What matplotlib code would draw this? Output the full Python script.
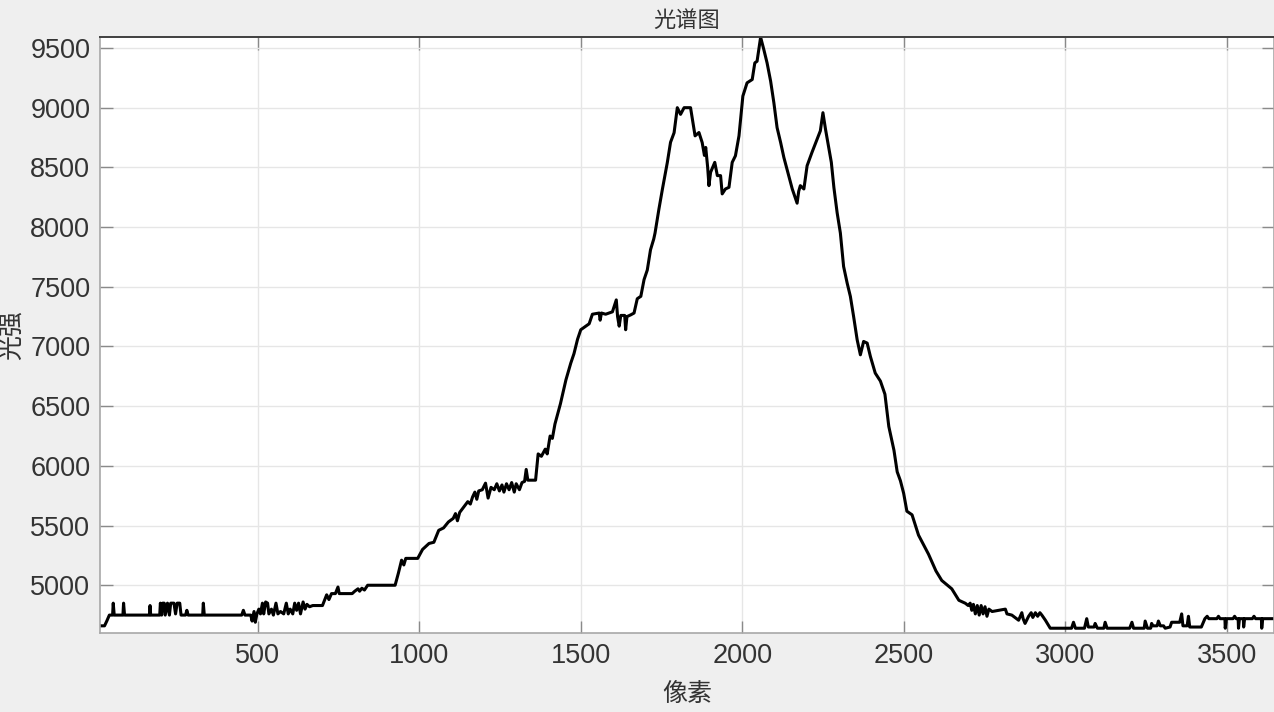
import matplotlib
matplotlib.use("Agg")
import matplotlib.pyplot as plt
import numpy as np

plt.rcParams['font.family'] = ['Liberation Sans', 'Noto Sans CJK SC', 'DejaVu Sans']

# spectrum, (pixel, intensity) per segment
baseline_left = [(1, 4660), (25, 4660), (32, 4700), (40, 4750), (50, 4750), (52, 4850), (55, 4750),
                 (82, 4750), (84, 4850), (87, 4750), (164, 4750), (166, 4830), (168, 4750),
                 (196, 4750), (198, 4850), (202, 4750), (205, 4850), (210, 4850), (213, 4750),
                 (220, 4850), (226, 4750), (230, 4850), (240, 4850), (245, 4760), (250, 4850),
                 (258, 4850), (262, 4750), (276, 4750), (280, 4790), (284, 4750), (329, 4750),
                 (331, 4850), (334, 4750), (450, 4750), (455, 4790), (460, 4750), (478, 4750),
                 (482, 4700), (488, 4780), (492, 4690), (497, 4760), (503, 4800), (508, 4760),
                 (514, 4850), (518, 4760), (524, 4860), (530, 4850), (534, 4760), (542, 4800),
                 (548, 4750), (556, 4850), (562, 4760), (570, 4780), (580, 4760), (588, 4850),
                 (594, 4760), (600, 4800), (608, 4760), (614, 4850), (620, 4790), (626, 4850),
                 (632, 4760), (640, 4860), (646, 4800), (652, 4840), (660, 4820), (670, 4830),
                 (700, 4830), (713, 4920), (720, 4880), (728, 4930), (740, 4930), (748, 4985),
                 (752, 4930), (780, 4930), (792, 4930), (800, 4950), (810, 4970), (815, 4950),
                 (822, 4975), (830, 4960), (840, 5000), (925, 5000)]

shoulder = [(935, 5100), (945, 5210), (952, 5170), (958, 5225), (995, 5225), (1010, 5300),
            (1030, 5350), (1045, 5360), (1060, 5460), (1075, 5480), (1090, 5530), (1105, 5560),
            (1112, 5600), (1118, 5540), (1125, 5610), (1136, 5650), (1150, 5700), (1158, 5680),
            (1165, 5740), (1172, 5780), (1178, 5720), (1184, 5790), (1195, 5800), (1205, 5855),
            (1213, 5730), (1222, 5820), (1232, 5800), (1240, 5850), (1248, 5790), (1256, 5840),
            (1262, 5780), (1270, 5850), (1278, 5800), (1286, 5860), (1294, 5780), (1300, 5850),
            (1310, 5800), (1318, 5860), (1326, 5870), (1331, 5970), (1336, 5880), (1360, 5880),
            (1368, 6100), (1378, 6080), (1390, 6140), (1396, 6100), (1405, 6250), (1412, 6230),
            (1420, 6350), (1437, 6520), (1454, 6720), (1469, 6860), (1479, 6940), (1490, 7060),
            (1500, 7140), (1526, 7190), (1536, 7270), (1557, 7280), (1560, 7220), (1564, 7280),
            (1577, 7270), (1598, 7290), (1610, 7390), (1614, 7250), (1619, 7170), (1624, 7260),
            (1636, 7260), (1639, 7140), (1643, 7250), (1655, 7265), (1665, 7280), (1675, 7400),
            (1686, 7420), (1696, 7560), (1706, 7640), (1716, 7810), (1726, 7900)]

peaks = [(1730, 7950), (1742, 8150), (1753, 8320), (1768, 8540), (1778, 8710), (1789, 8790),
         (1799, 9000), (1809, 8944), (1820, 9000), (1840, 9000), (1854, 8764), (1866, 8792),
         (1876, 8708), (1883, 8600), (1887, 8667), (1893, 8500), (1897, 8347), (1902, 8458),
         (1915, 8542), (1923, 8431), (1933, 8431), (1938, 8278), (1948, 8319), (1959, 8333),
         (1969, 8542), (1979, 8597), (1990, 8764), (2002, 9097), (2015, 9208), (2031, 9236),
         (2039, 9375), (2046, 9389), (2057, 9590), (2067, 9486), (2077, 9375), (2088, 9222),
         (2098, 9042), (2108, 8833), (2119, 8708), (2129, 8583), (2144, 8431), (2155, 8319),
         (2165, 8240), (2170, 8200), (2175, 8300), (2180, 8347), (2191, 8319), (2201, 8514),
         (2216, 8625), (2232, 8736), (2242, 8806), (2250, 8958), (2258, 8819), (2266, 8694),
         (2272, 8600), (2276, 8542), (2284, 8330), (2294, 8120), (2304, 7950)]

falling = [(2314, 7670), (2325, 7531), (2335, 7419), (2345, 7251), (2356, 7056), (2366, 6930),
           (2376, 7042), (2387, 7028), (2397, 6916), (2412, 6777), (2428, 6710), (2442, 6600),
           (2454, 6330), (2470, 6130), (2480, 5950), (2490, 5875), (2500, 5770), (2510, 5620),
           (2526, 5590), (2546, 5420), (2577, 5260), (2600, 5120), (2618, 5040), (2649, 4970),
           (2671, 4874), (2691, 4849)]

baseline_right = [(2700, 4830), (2706, 4850), (2711, 4790), (2716, 4840), (2722, 4760), (2728, 4830),
                  (2734, 4750), (2740, 4830), (2746, 4760), (2752, 4820), (2758, 4740), (2764, 4800),
                  (2774, 4780), (2794, 4790), (2815, 4800), (2820, 4760), (2835, 4750), (2856, 4707),
                  (2866, 4770), (2870, 4720), (2876, 4680), (2887, 4740), (2895, 4770), (2900, 4730),
                  (2908, 4770), (2915, 4740), (2922, 4770), (2928, 4750), (2939, 4707), (2954, 4640),
                  (3020, 4640), (3026, 4690), (3032, 4640), (3060, 4640), (3067, 4720), (3072, 4650),
                  (3090, 4650), (3093, 4680), (3100, 4640), (3120, 4640), (3124, 4690), (3130, 4640),
                  (3200, 4640), (3207, 4690), (3212, 4640), (3245, 4640), (3248, 4700), (3255, 4640),
                  (3265, 4640), (3268, 4680), (3272, 4660), (3285, 4660), (3289, 4700), (3295, 4660),
                  (3305, 4660), (3310, 4640), (3325, 4650), (3330, 4690), (3355, 4690), (3361, 4760),
                  (3365, 4660), (3378, 4660), (3382, 4740), (3386, 4650), (3422, 4650), (3433, 4720),
                  (3440, 4740), (3445, 4720), (3470, 4720), (3475, 4740), (3480, 4720), (3495, 4720),
                  (3496, 4640), (3500, 4720), (3520, 4720), (3525, 4740), (3530, 4720), (3536, 4720),
                  (3537, 4640), (3540, 4720), (3552, 4720), (3553, 4650), (3556, 4720), (3580, 4720),
                  (3585, 4740), (3590, 4720), (3608, 4720), (3609, 4640), (3612, 4720), (3648, 4720)]

xticks = [500, 1000, 1500, 2000, 2500, 3000, 3500]
yticks = [5000, 5500, 6000, 6500, 7000, 7500, 8000, 8500, 9000, 9500]

spectrum = np.array(baseline_left + shoulder + peaks + falling + baseline_right)
pixel = spectrum[:, 0]
intensity = spectrum[:, 1]

fig = plt.figure(figsize=(12.74, 7.12), dpi=100, facecolor='#efefef')
ax = fig.add_axes([100/1274, 79/712, 1174/1274, 596/712])
ax.set_facecolor('white')

ax.plot(pixel, intensity, color='black', linewidth=2.2)

ax.set_xlim(11, 3647)
ax.set_ylim(4600, 9592)
ax.set_xticks(xticks)
ax.set_yticks(yticks)
ax.grid(True, color='#e6e6e6', linewidth=1.0)
ax.set_axisbelow(True)

ax.tick_params(axis='both', direction='in', top=True, right=True, length=9, width=1,
               color='#8a8a8a', labelcolor='#333333', labelsize=19.5, pad=7)
for side in ['left', 'bottom', 'right']:
    ax.spines[side].set_color('#a8a8a8')
    ax.spines[side].set_linewidth(1.2)
ax.spines['top'].set_color('#404040')
ax.spines['top'].set_linewidth(1.4)

ax.set_title('光谱图', family=['Noto Sans CJK SC'], fontsize=16, color='#333333', pad=7)
ax.set_xlabel('像素', family=['Noto Sans CJK SC'], fontsize=18, color='#333333')
ax.set_ylabel('光强', family=['Noto Sans CJK SC'], fontsize=18, color='#333333')
ax.xaxis.set_label_coords(0.5, -0.08)
ax.yaxis.set_label_coords(-0.064, 0.5)

fig.savefig('out.png', dpi=100, facecolor=fig.get_facecolor())
